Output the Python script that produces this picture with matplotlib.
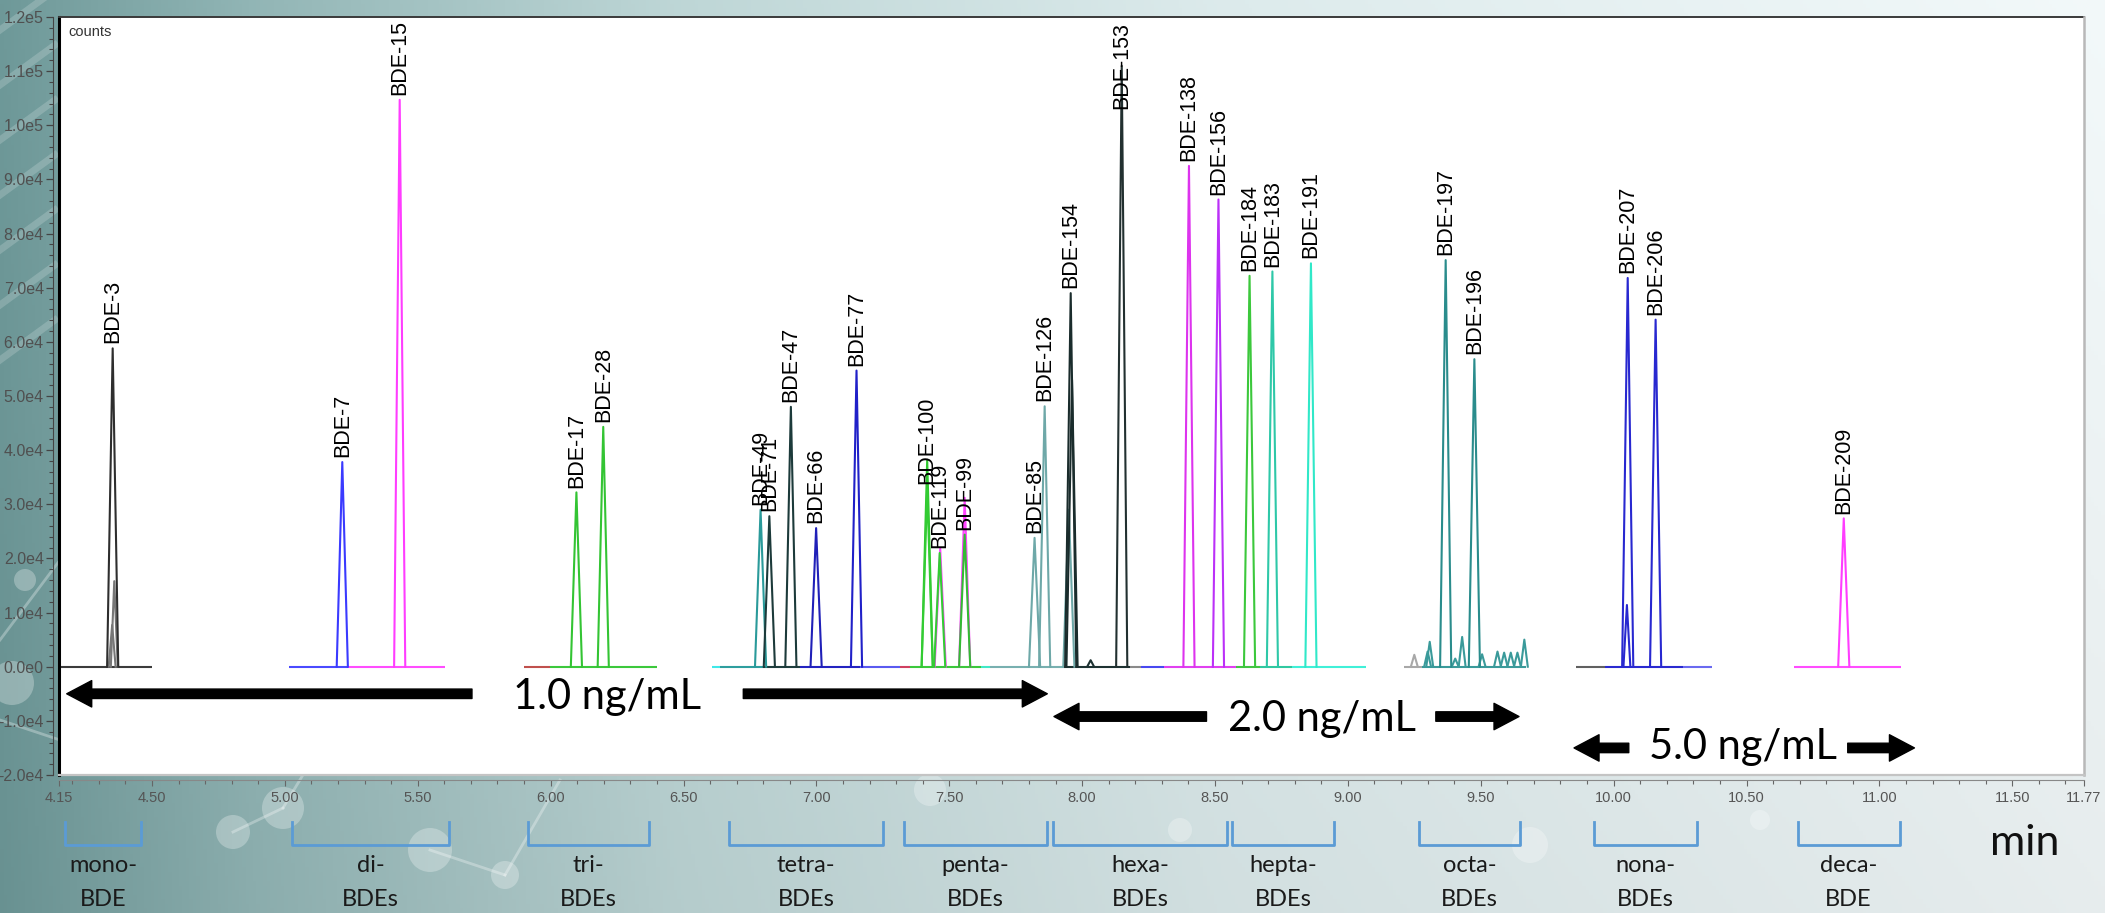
import numpy as np
import matplotlib
matplotlib.use("Agg")
import matplotlib.pyplot as plt
from matplotlib.transforms import blended_transform_factory
from matplotlib.patches import Ellipse
from matplotlib.lines import Line2D
from matplotlib.colors import to_rgb

# ---------------- data ----------------
peak_names = ['BDE-3', 'BDE-7', 'BDE-15', 'BDE-17', 'BDE-28', 'BDE-49', 'BDE-71', 'BDE-47',
              'BDE-66', 'BDE-77', 'BDE-100', 'BDE-119', 'BDE-99', 'BDE-85', 'BDE-126',
              'BDE-154', 'BDE-153', 'BDE-138', 'BDE-156', 'BDE-184', 'BDE-183', 'BDE-191',
              'BDE-197', 'BDE-196', 'BDE-207', 'BDE-206', 'BDE-209']
peak_rt = [4.352, 5.216, 5.432, 6.097, 6.198, 6.790, 6.823, 6.904,
           6.999, 7.151, 7.417, 7.464, 7.558, 7.821, 7.859,
           7.957, 8.149, 8.402, 8.513, 8.630, 8.716, 8.861,
           9.368, 9.476, 10.053, 10.158, 10.866]
peak_height = [58.8e3, 37.8e3, 104.7e3, 32.2e3, 44.3e3, 29.0e3, 27.8e3, 48.0e3,
               25.6e3, 54.7e3, 32.8e3, 21.0e3, 24.4e3, 23.8e3, 48.1e3,
               69.0e3, 111.0e3, 92.5e3, 86.3e3, 72.2e3, 73.0e3, 74.5e3,
               75.1e3, 56.8e3, 71.8e3, 64.1e3, 27.4e3]
peak_colors = ['#2e2e2e', '#3a3aff', '#ff3dff', '#33c433', '#33c433', '#2a9a9a', '#1c3a3a', '#1c3a3a',
               '#2020b8', '#2020c8', '#33cc33', '#33cc33', '#33bb33', '#6ea8a8', '#6ea8a8',
               '#1a2c2c', '#223030', '#dd33ee', '#bb30f8', '#3cc83c', '#2ec8a8', '#30e8c8',
               '#2a8c8c', '#2a8c8c', '#2828d0', '#2828d0', '#ff3dff']

# unlabelled co-eluting traces and small baseline features
minor_rt = [4.350, 4.358, 7.417, 7.466, 7.558, 7.950, 7.962, 8.032,
            9.250, 9.300, 9.308, 9.404, 9.430, 9.505, 9.563, 9.588, 9.613, 9.638, 9.664, 10.050]
minor_height = [7.7e3, 15.8e3, 38.2e3, 21.8e3, 31.2e3, 29.0e3, 53.0e3, 1.2e3,
                2.2e3, 2.8e3, 4.6e3, 1.5e3, 5.5e3, 2.3e3, 2.8e3, 2.6e3, 2.6e3, 2.6e3, 5.0e3, 11.4e3]
minor_colors = ['#777777', '#777777', '#2fc82f', '#ff44ff', '#ff44ff', '#6ea8a8', '#1a2c2c', '#1e3232',
                '#a8a8a8', '#3a9a9a', '#3a9a9a', '#3a9a9a', '#3a9a9a', '#3a9a9a', '#3a9a9a',
                '#3a9a9a', '#3a9a9a', '#3a9a9a', '#3a9a9a', '#2828d0']

# baseline trace segments (start, end in min) and colours
seg_start = [4.15, 5.017, 5.239, 5.898, 5.999, 6.607, 6.639, 6.800, 6.940, 7.166, 7.316, 7.354,
             7.618, 7.655, 7.930, 8.180, 8.220, 8.307, 8.580, 8.670, 8.790,
             9.210, 9.280, 9.858, 9.967, 10.261, 10.679]
seg_end = [4.50, 5.239, 5.603, 5.999, 6.400, 6.639, 6.800, 6.940, 7.166, 7.316, 7.354, 7.618,
           7.655, 7.930, 8.180, 8.220, 8.307, 8.580, 8.670, 8.790, 9.067,
           9.280, 9.670, 9.967, 10.261, 10.370, 11.083]
seg_colors = ['#3c3c3c', '#4a4aff', '#ff4dff', '#c0504d', '#3cc83c', '#40e8e8', '#2e9e9e', '#1e3e3e',
              '#2323c0', '#5a5af0', '#d04060', '#3cc83c', '#40e8c8', '#78b0b0', '#1e3232',
              '#8a8a8a', '#4848f0', '#e040f0', '#44c444', '#30c8a0', '#40f0d8',
              '#a8a8a8', '#3a9a9a', '#606060', '#2a2ad0', '#6a6af0', '#ff4dff']

# homologue groups (bracket start, end in min)
group_top = ['mono-', 'di-', 'tri-', 'tetra-', 'penta-', 'hexa-', 'hepta-', 'octa-', 'nona-', 'deca-']
group_bottom = ['BDE', 'BDEs', 'BDEs', 'BDEs', 'BDEs', 'BDEs', 'BDEs', 'BDEs', 'BDEs', 'BDE']
group_start = [4.173, 5.026, 5.914, 6.673, 7.328, 7.892, 8.565, 9.268, 9.927, 10.692]
group_end = [4.458, 5.618, 6.370, 7.249, 7.866, 8.546, 8.948, 9.648, 10.313, 11.077]

# concentration annotations
conc_text = ['1.0 ng/mL', '2.0 ng/mL', '5.0 ng/mL']
conc_x = [6.212, 8.901, 10.485]
conc_y = [-5.6e3, -9.6e3, -14.9e3]
arrow_tail = [5.704, 6.725, 8.468, 9.331, 10.057, 10.881]
arrow_tip = [4.179, 7.869, 7.894, 9.644, 9.851, 11.132]
arrow_y = [-5.0e3, -5.0e3, -9.2e3, -9.2e3, -15.0e3, -15.0e3]

x_ticks = [4.15, 4.50, 5.00, 5.50, 6.00, 6.50, 7.00, 7.50, 8.00, 8.50, 9.00, 9.50,
           10.00, 10.50, 11.00, 11.50, 11.77]
x_tick_labels = ['4.15', '4.50', '5.00', '5.50', '6.00', '6.50', '7.00', '7.50', '8.00', '8.50',
                 '9.00', '9.50', '10.00', '10.50', '11.00', '11.50', '11.77']
y_ticks = [-2e4, -1e4, 0, 1e4, 2e4, 3e4, 4e4, 5e4, 6e4, 7e4, 8e4, 9e4, 1e5, 1.1e5, 1.2e5]
y_tick_labels = ['-2.0e4', '-1.0e4', '0.0e0', '1.0e4', '2.0e4', '3.0e4', '4.0e4', '5.0e4',
                 '6.0e4', '7.0e4', '8.0e4', '9.0e4', '1.0e5', '1.1e5', '1.2e5']

# ---------------- styles ----------------
W, H = 2105, 913
PEAK_HW = 0.021
BUMP_HW = 0.013
TRACE_LW = 1.5
LABEL_FONT = 'Liberation Sans'
ANNOT_FONT = 'Lato'

fig = plt.figure(figsize=(W / 100, H / 100), dpi=100)

# background gradient
bg = fig.add_axes([0, 0, 1, 1], zorder=-10)
stops_x = [0.0, 0.12, 0.32, 0.58, 1.0]
stops_c = ['#6c9696', '#8fb2b2', '#bad2d2', '#d8e6e7', '#eef4f5']
xs = np.linspace(0, 1, 600)
cols = np.array([to_rgb(c) for c in stops_c])
row = np.stack([np.interp(xs, stops_x, cols[:, k]) for k in range(3)], axis=-1)
ys = np.linspace(0, 1, 200)[:, None, None]
img = np.clip(row[None, :, :] * (0.97 + 0.05 * ys), 0, 1)
bg.imshow(img, extent=[0, 1, 0, 1], aspect='auto', origin='lower')
bg.set_xlim(0, 1)
bg.set_ylim(0, 1)
bg.axis('off')
# faint molecule decorations
circ = [(25, 580, 11), (12, 683, 22), (233, 832, 17), (283, 808, 21), (430, 850, 22),
        (505, 875, 14), (930, 790, 16), (1180, 830, 12), (1530, 845, 18), (1760, 820, 10)]
for (cx, cy, r) in circ:
    bg.add_patch(Ellipse((cx / W, 1 - cy / H), 2 * r / W, 2 * r / H,
                         color='white', alpha=0.28, lw=0))
bonds = [((0, 640), (60, 560)), ((0, 720), (60, 740)), ((233, 832), (283, 808)),
         ((283, 808), (330, 730)), ((430, 850), (505, 875)), ((505, 875), (560, 780))]
for (a, b) in bonds:
    bg.plot([a[0] / W, b[0] / W], [1 - a[1] / H, 1 - b[1] / H], color='white', alpha=0.3, lw=2)
for k in range(7):
    y0 = 1 - (30 + 55 * k) / H
    bg.plot([0, 55 / W], [y0, y0 + 40 / H], color='white', alpha=0.18, lw=5)

# main axes
left, right, top, bottom = 59, 2084, 17, 775
ax = fig.add_axes([left / W, 1 - bottom / H, (right - left) / W, (bottom - top) / H])
ax.set_facecolor('white')
ax.set_xlim(4.15, 11.77)
ax.set_ylim(-2e4, 1.2e5)

# baselines
for s, e, c in zip(seg_start, seg_end, seg_colors):
    ax.plot([s, e], [0, 0], color=c, lw=TRACE_LW, solid_capstyle='butt', zorder=2)
# minor features
for rt, h, c in zip(minor_rt, minor_height, minor_colors):
    hw = BUMP_HW if h < 20e3 else PEAK_HW
    ax.plot([rt - hw, rt, rt + hw], [0, h, 0], color=c, lw=TRACE_LW, zorder=3)
# labelled peaks
for name, rt, h, c in zip(peak_names, peak_rt, peak_height, peak_colors):
    ax.plot([rt - PEAK_HW, rt, rt + PEAK_HW], [0, h, 0], color=c, lw=TRACE_LW, zorder=4)
    if h > 1.08e5:
        ax.annotate(name, xy=(rt, 1.2e5), xytext=(0, -4), textcoords='offset points',
                    rotation=90, ha='center', va='top', fontsize=15.5, family=LABEL_FONT, zorder=6)
    else:
        ax.annotate(name, xy=(rt, h), xytext=(0, 3.5), textcoords='offset points',
                    rotation=90, ha='center', va='bottom', fontsize=15.5, family=LABEL_FONT, zorder=6)

ax.text(0.0045, 0.980, 'counts', transform=ax.transAxes, ha='left', va='center',
        fontsize=10.5, family=LABEL_FONT, color='#333333')

# concentration arrows and text
for t0, t1, yv in zip(arrow_tail, arrow_tip, arrow_y):
    ax.annotate('', xy=(t1, yv), xytext=(t0, yv),
                arrowprops=dict(arrowstyle='simple,head_length=1.8,head_width=1.9,tail_width=0.68',
                                mutation_scale=10, color='black', shrinkA=0, shrinkB=0), zorder=5)
for txt, xv, yv in zip(conc_text, conc_x, conc_y):
    ax.text(xv, yv, txt, ha='center', va='center', fontsize=30, family=ANNOT_FONT, color='black')

# axes frame and ticks
for sp in ['top', 'right', 'left', 'bottom']:
    ax.spines[sp].set_visible(False)
ax.spines['left'].set_visible(True)
ax.spines['left'].set_position(('outward', 4.1))
ax.spines['left'].set_color('#444444')
ax.spines['left'].set_linewidth(0.8)
ax.spines['bottom'].set_visible(True)
ax.spines['bottom'].set_position(('outward', 3.6))
ax.spines['bottom'].set_color('#888888')
ax.spines['bottom'].set_linewidth(0.8)

ax.add_line(Line2D([0, 0], [0, 1], transform=ax.transAxes, color='black', lw=2.2, clip_on=False, zorder=10))
ax.add_line(Line2D([0, 1], [1, 1], transform=ax.transAxes, color='#3a3a3a', lw=1.4, clip_on=False, zorder=10))
ax.add_line(Line2D([1, 1], [0, 1], transform=ax.transAxes, color='#b8b8b8', lw=1.8, clip_on=False, zorder=10))
ax.add_line(Line2D([0, 1], [0, 0], transform=ax.transAxes, color='#c4c4c4', lw=1.6, clip_on=False, zorder=10))

ax.set_yticks(y_ticks)
ax.set_yticklabels(y_tick_labels)
ax.set_yticks(np.arange(-2e4, 1.2e5 + 1, 2e3), minor=True)
ax.tick_params(axis='y', which='major', direction='out', length=4.8, width=0.9, color='#444444',
               pad=2.0, labelsize=11.5, labelcolor='#505050')
ax.tick_params(axis='y', which='minor', direction='out', length=2.6, width=0.8, color='#444444')

ax.set_xticks(x_ticks)
ax.set_xticklabels(x_tick_labels)
ax.set_xticks(np.round(np.arange(4.2, 11.71, 0.1), 2), minor=True)
ax.tick_params(axis='x', which='major', direction='out', length=4.2, width=0.8, color='#666666',
               pad=3.5, labelsize=10.5, labelcolor='#555555')
ax.tick_params(axis='x', which='minor', direction='out', length=3.0, width=0.8, color='#666666')
for lab in ax.get_xticklabels() + ax.get_yticklabels():
    lab.set_family(LABEL_FONT)

# homologue brackets and labels (below the axis)
tr = blended_transform_factory(ax.transData, fig.transFigure)
yb_top = 1 - 821.7 / H
yb_bot = 1 - 845 / H
for s, e, t1, t2 in zip(group_start, group_end, group_top, group_bottom):
    ax.add_line(Line2D([s, s, e, e], [yb_top, yb_bot, yb_bot, yb_top], transform=tr,
                       color='#5b9bd5', lw=2.0, clip_on=False, solid_joinstyle='round'))
    xm = (s + e) / 2
    ax.text(xm, 1 - 865 / H, t1, transform=tr, ha='center', va='center', fontsize=17,
            family=ANNOT_FONT, color='#1a1a1a')
    ax.text(xm, 1 - 899 / H, t2, transform=tr, ha='center', va='center', fontsize=17,
            family=ANNOT_FONT, color='#1a1a1a')

fig.text(2025 / W, 1 - 843 / H, 'min', ha='center', va='center', fontsize=31,
         family=ANNOT_FONT, color='#111111')

fig.savefig('out.png', dpi=100)
